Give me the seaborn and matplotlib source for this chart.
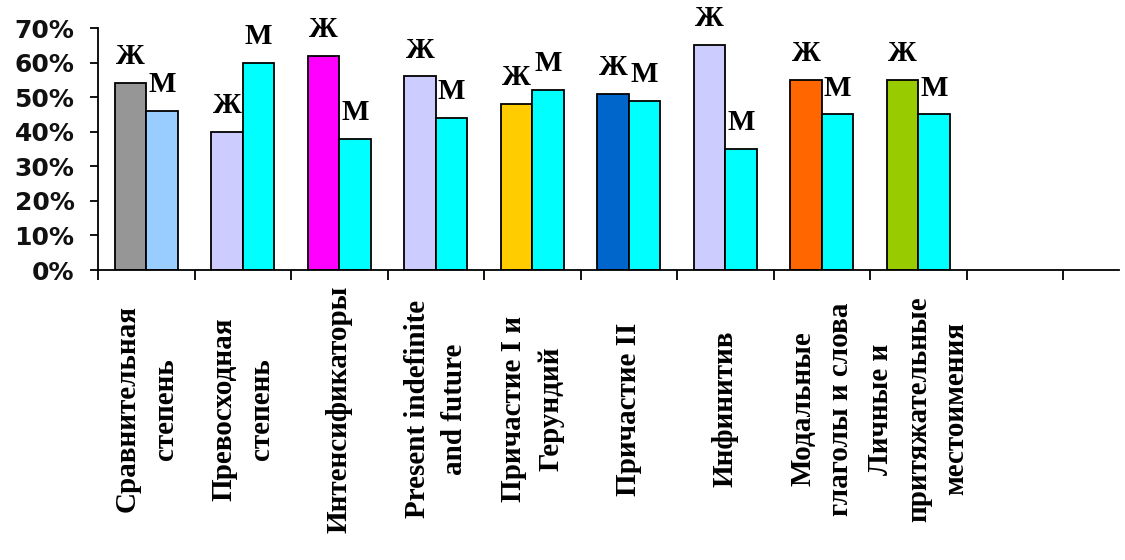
import numpy as np
import pandas as pd
import matplotlib
matplotlib.use("Agg")
import matplotlib.pyplot as plt
import seaborn as sns

# Share of usage by gender for each grammatical category, in percent
categories = [
    "Сравнительная\nстепень",
    "Превосходная\nстепень",
    "Интенсификаторы",
    "Present indefinite\nand future",
    "Причастие I и\nГерундий",
    "Причастие II",
    "Инфинитив",
    "Модальные\nглаголы и слова",
    "Личные и\nпритяжательные\nместоимения",
]
female = [54, 40, 62, 56, 48, 51, 65, 55, 55]
male = [46, 60, 38, 44, 52, 49, 35, 45, 45]
sex_labels = ["Ж", "М"]
y_ticks = [0, 10, 20, 30, 40, 50, 60, 70]

female_colors = ["#969696", "#CCCCFF", "#FF00FF", "#CCCCFF", "#FFCC00",
                 "#0066CC", "#CCCCFF", "#FF6600", "#99CC00"]
male_colors = ["#99CCFF"] + ["#00FFFF"] * 8

df = pd.DataFrame({
    "Категория": categories * 2,
    "Пол": [sex_labels[0]] * len(categories) + [sex_labels[1]] * len(categories),
    "Доля": female + male,
})

sns.set_style("ticks")
plt.rcParams["font.family"] = ["DejaVu Sans"]
plt.rcParams["xtick.color"] = "black"
plt.rcParams["ytick.color"] = "black"

fig = plt.figure(figsize=(11.25, 5.6), dpi=100)
ax = fig.add_axes([98 / 1125, 290 / 560, 1021 / 1125, 242 / 560])

sns.barplot(
    data=df, x="Категория", y="Доля", hue="Пол",
    order=categories, hue_order=sex_labels,
    palette=["#CCCCFF", "#00FFFF"], saturation=1,
    width=0.655, errorbar=None, legend=False,
    edgecolor="black", linewidth=1.3, ax=ax,
)

# individual fill for every bar
for container, colors in zip(ax.containers, [female_colors, male_colors]):
    for patch, color in zip(container, colors):
        patch.set_facecolor(color)

# gender letter above each bar
for container, lab in zip(ax.containers, sex_labels):
    for patch in container:
        ax.annotate(
            lab,
            (patch.get_x() + patch.get_width() / 2, patch.get_height()),
            xytext=(0, 19), textcoords="offset points",
            ha="center", va="center",
            fontsize=21, fontweight="bold", family="Liberation Serif",
            color="black",
        )

ax.set_ylim(0, 70)
ax.set_yticks(y_ticks)
ax.set_yticklabels([f"{v}%" for v in y_ticks],
                   fontsize=18, fontweight="bold", color="#111111")
ax.tick_params(axis="y", length=6, width=1.3, pad=11)

# boundary ticks between groups, labels at group centres
ax.set_xlim(-0.5, 10.08)
ax.set_xticks(np.arange(-0.5, 10.5, 1.0))
ax.set_xticklabels([])
ax.tick_params(axis="x", which="major", length=7, width=1.3)
ax.set_xticks(range(len(categories)), labels=categories, minor=True)
ax.tick_params(axis="x", which="minor", length=0, pad=100)
for lbl in ax.get_xticklabels(minor=True):
    lbl.set_rotation(90)
    lbl.set_va("center")
    lbl.set_ha("center")
    lbl.set_multialignment("center")
    lbl.set_family("Liberation Serif")
    lbl.set_fontweight("bold")
    lbl.set_fontsize(21)
    lbl.set_linespacing(1.5)

ax.set_xlabel("")
ax.set_ylabel("")
sns.despine(ax=ax)
for side in ["left", "bottom"]:
    ax.spines[side].set_color("black")
    ax.spines[side].set_linewidth(1.3)

fig.savefig("out.png", dpi=100)
